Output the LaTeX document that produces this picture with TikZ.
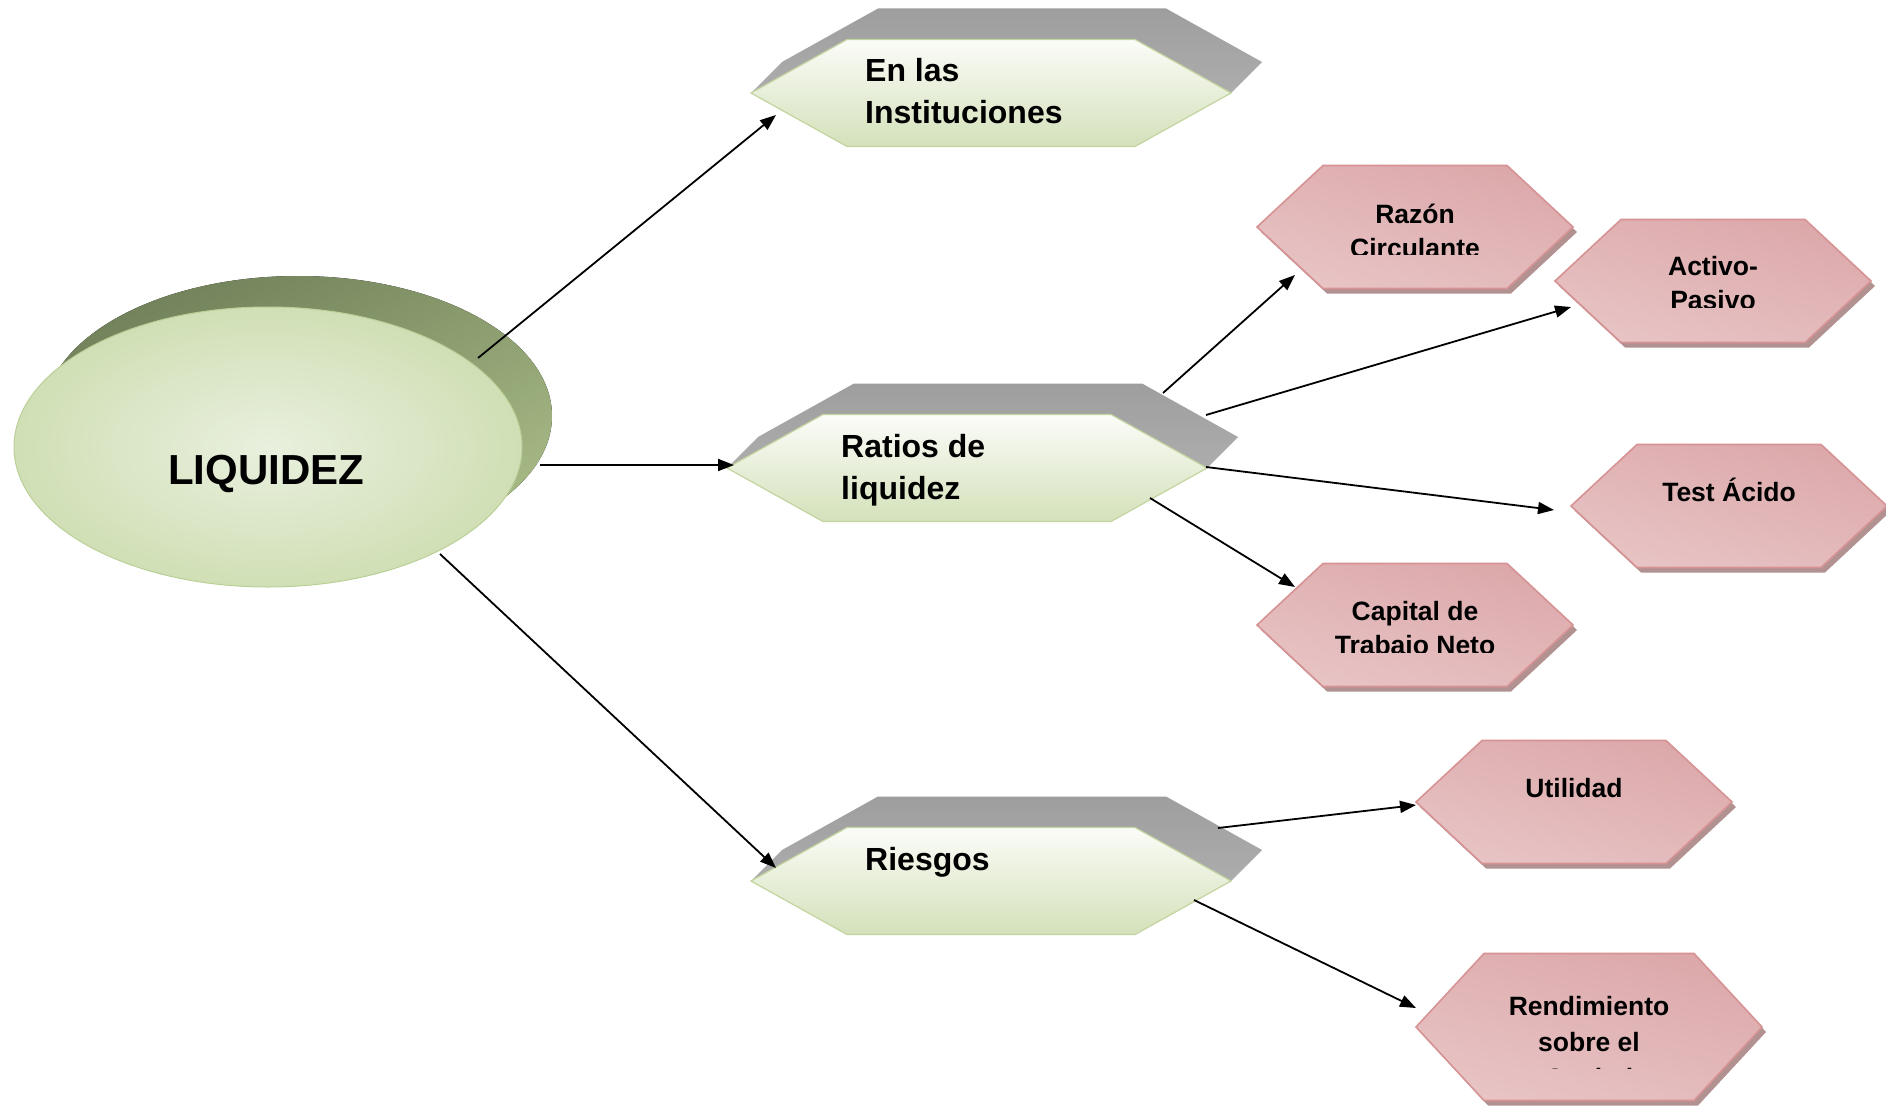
\documentclass[tikz,border=0pt]{standalone}
\usepackage{fontspec}
\setmainfont{Liberation Sans}
\usetikzlibrary{arrows.meta,shapes.geometric}
\definecolor{grnTop}{HTML}{FBFCF8}
\definecolor{grnBot}{HTML}{D4E1BA}
\definecolor{grnEdge}{HTML}{C3D59F}
\definecolor{grayA}{HTML}{9E9E9E}
\definecolor{grayB}{HTML}{B6B6B6}
\definecolor{olvDark}{HTML}{71815A}
\definecolor{olvLight}{HTML}{A8BB86}
\definecolor{ellIn}{HTML}{E9F0DE}
\definecolor{ellOut}{HTML}{D0DFB5}
\definecolor{ellEdge}{HTML}{BBD098}
\definecolor{pkDark}{HTML}{DCA8AA}
\definecolor{pkLight}{HTML}{F4E2E2}
\definecolor{pkMid}{HTML}{E8C4C5}
\definecolor{pkEdge}{HTML}{D79294}
\definecolor{pkShadow}{HTML}{B29191}
\tikzset{
  hexback/.style={top color=grayA, bottom color=grayB},
  hexfront/.style={top color=grnTop, bottom color=grnBot, draw=grnEdge, line width=1.2pt},
  pinkfront/.style={top color=pkDark, middle color=pkLight, bottom color=pkMid, shading angle=-15, draw=pkEdge, line width=1.6pt},
  pinkshadow/.style={fill=pkShadow},
  anchorbox/.style={draw=none, fill=none, inner sep=0pt},
  grntext/.style={font=\fontsize{32}{38}\selectfont\bfseries, anchor=base west, inner sep=0pt},
  pnktext/.style={font=\fontsize{26.5}{32}\selectfont\bfseries, anchor=base, inner sep=0pt},
  conn/.style={draw=black, line width=1.8pt, -{Triangle[length=16pt,width=12pt]}},
}
\newcommand\GrnHex[3]{%
  \begin{scope}[shift={(#2,#3)}]
    \path[hexback] (-240,0) -- (-209,-31) -- (-113,-84.5) -- (175,-84.5) -- (271,-31) -- (240,0) -- (144,53.5) -- (-144,53.5) -- cycle;
    \path[hexfront] (-240,0) -- (-144,-53.5) -- (144,-53.5) -- (240,0) -- (144,53.5) -- (-144,53.5) -- cycle;
    \node[anchorbox, minimum width=480pt, minimum height=107pt] (#1) at (0,0) {};
  \end{scope}}
% name, x, y, half width, half height, inset
\newcommand\PnkHex[6]{%
  \begin{scope}[shift={(#2,#3)}]
    \path[pinkshadow, shift={(4,5)}] (-#4,0) -- (-#4+#6,-#5) -- (#4-#6,-#5) -- (#4,0) -- (#4-#6,#5) -- (-#4+#6,#5) -- cycle;
    \path[pinkfront] (-#4,0) -- (-#4+#6,-#5) -- (#4-#6,-#5) -- (#4,0) -- (#4-#6,#5) -- (-#4+#6,#5) -- cycle;
    \node[anchorbox, minimum width=2*#4 pt, minimum height=2*#5 pt] (#1) at (0,0) {};
  \end{scope}}
\begin{document}
\begin{tikzpicture}[x=1pt,y=-1pt]
\useasboundingbox[fill=white] (0,0) rectangle (1886,1107);

% central ellipse
\fill[top color=olvDark, bottom color=olvLight, shading angle=25] (298,416) ellipse [x radius=254pt, y radius=140pt];
\node[ellipse, minimum width=508pt, minimum height=280pt, inner sep=0pt, shading=radial, inner color=ellIn, outer color=ellOut, draw=ellEdge, line width=1pt] (liq) at (268,447) {};
\node[font=\fontsize{42}{48}\selectfont\bfseries, anchor=base, inner sep=0pt] (liqtext) at (266,484) {LIQUIDEZ};

% green hexagons
\GrnHex{inst}{991}{93}
\GrnHex{rat}{967}{468}
\GrnHex{rie}{991}{881}
\node[grntext] (inst1) at (865,81.5) {En las};
\node[grntext] (inst2) at (865,123.5) {Instituciones};
\node[grntext] (rat1) at (841,457.5) {Ratios de};
\node[grntext] (rat2) at (841,499.5) {liquidez};
\node[grntext] (rie1) at (865,870.5) {Riesgos};

% pink hexagons
\PnkHex{raz}{1415}{227}{158}{61.5}{66}
\PnkHex{act}{1713}{281}{158}{61.5}{66}
\PnkHex{tes}{1729}{506}{158}{61.5}{66}
\PnkHex{cap}{1415}{625}{158}{61.5}{66}
\PnkHex{uti}{1574}{802}{158}{61.5}{66}
\PnkHex{ren}{1589}{1027}{173}{73.5}{68}

\begin{scope}
  \clip (1250,180) rectangle (1580,255);
  \node[pnktext] (raz1) at (1415,223.5) {Razón};
  \node[pnktext] (raz2) at (1415,257.5) {Circulante};
\end{scope}
\begin{scope}
  \clip (1550,230) rectangle (1880,307);
  \node[pnktext] (act1) at (1713,275.5) {Activo-};
  \node[pnktext] (act2) at (1713,309.5) {Pasivo};
\end{scope}
\node[pnktext] (tes1) at (1729,501.5) {Test Ácido};
\begin{scope}
  \clip (1250,580) rectangle (1580,652);
  \node[pnktext] (cap1) at (1415,620.5) {Capital de};
  \node[pnktext] (cap2) at (1415,654.5) {Trabajo Neto};
\end{scope}
\node[pnktext] (uti1) at (1574,797.5) {Utilidad};
\begin{scope}
  \clip (1420,970) rectangle (1760,1068);
  \node[pnktext] (ren1) at (1589,1015.5) {Rendimiento};
  \node[pnktext] (ren2) at (1589,1051.5) {sobre el};
  \node[pnktext] (ren3) at (1589,1087.5) {Capital};
\end{scope}

% connectors
\draw[conn] ([shift={(210,-89)}]liq.center) -- ([shift={(-215,22)}]inst.center);
\draw[conn] ([shift={(272,18)}]liq.center) -- ([shift={(-233,-3)}]rat.center);
\draw[conn] ([shift={(172,107)}]liq.center) -- ([shift={(-215,-13)}]rie.center);
\draw[conn] ([shift={(196,-75)}]rat.center) -- ([shift={(-120,48)}]raz.center);
\draw[conn] ([shift={(239,-53)}]rat.center) -- ([shift={(-142,26)}]act.center);
\draw[conn] ([shift={(239,-1)}]rat.center) -- ([shift={(-175,4)}]tes.center);
\draw[conn] ([shift={(183,30)}]rat.center) -- ([shift={(-120,-38)}]cap.center);
\draw[conn] ([shift={(227,-53)}]rie.center) -- ([shift={(-158,3)}]uti.center);
\draw[conn] ([shift={(203,19)}]rie.center) -- ([shift={(-173,-19)}]ren.center);
\end{tikzpicture}
\end{document}
